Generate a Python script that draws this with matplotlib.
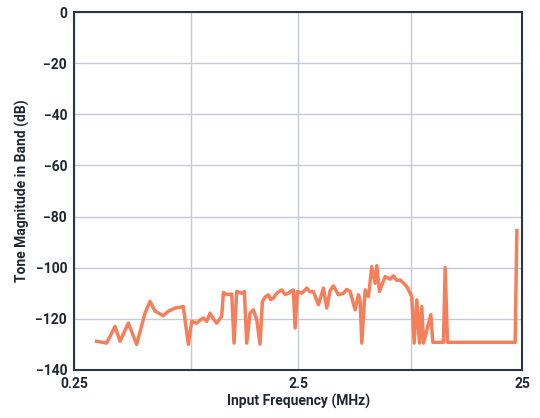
import numpy as np
import matplotlib
matplotlib.use("Agg")
import matplotlib.pyplot as plt

# points: position index (log scale units) and dB
zx = [110,140,165,180,205,230,255,270,285,310,325,345,370,375,385,395,410,420,430,440,450,460,470,485,
      490,500,515,522,530,545,553,560,570,580,590,600,607,615,625,632,640,650,665,675,685,695,700,705,712,
      725,740,750,760,775,790,800,810,820,835,850,860,870,885,895,900,905,915,925,935,945,950,958,
      975,990,1000,1010,1020,1030,1040,1055,1062,1070,1078,1085,1090,1112,1118,1150,1155,1162,1365,1370]
db = [-128.8,-129.5,-123,-128.8,-121.7,-130,-117.8,-113.2,-117,-118.8,-117,-115.8,-115.2,-120.4,-130,-121,
      -121.7,-120.5,-119.7,-121,-117.8,-120,-121.7,-119,
      -109.7,-110.5,-110.3,-129.5,-109.3,-110,-109.3,-129.5,-117.8,-116.5,-120.4,-129.9,-113.2,-111.5,-110.6,
      -112.5,-111.9,-110,-108.7,-110.5,-110,-109,-108.7,-123.6,-109.3,
      -110,-108,-109.5,-109.3,-114.5,-108,-115.8,-109,-107.1,-110.6,-110,-108.5,-109.3,-116.5,-110.6,-113,
      -129.5,-108.7,-111.3,-99.6,-106.1,-99.2,-109.3,
      -103.5,-104.5,-103.2,-105,-104.8,-106,-107.4,-111.3,-129.5,-112.6,-129.5,-115.2,-129.5,-118.4,-129.2,
      -129.2,-100,-129.2,-129.2,-85.5]
freq = [0.25 * 10 ** ((z - 42) / 672) for z in zx]

xticks = [0.25, 2.5, 25]
xtick_labels = ["0.25", "2.5", "25"]
yticks = [0, -20, -40, -60, -80, -100, -120, -140]

plt.rcParams['font.family'] = ['Roboto', 'DejaVu Sans']
fig = plt.figure(figsize=(5.4, 4.18), dpi=100)
ax = fig.add_axes([0.137, 0.115, 0.83, 0.856])
ax.plot(freq, db, color="#F57F5B", lw=2.5)
ax.set_xscale("log")
ax.set_xlim(0.25, 25)
ax.set_ylim(-140, 0)
ax.set_xticks(xticks)
ax.set_xticklabels(xtick_labels)
ax.set_xticks([0.83, 8], minor=True)
ax.xaxis.set_minor_formatter(matplotlib.ticker.NullFormatter())
ax.set_yticks(yticks)
ax.set_yticklabels([f"{v}".replace("-", "\u2212") for v in yticks])
ax.grid(True, which="both", color="#C5CBD6", lw=1)
ax.set_axisbelow(True)
for s in ax.spines.values():
    s.set_color("#2A3645"); s.set_linewidth(1.5)
ax.tick_params(which="both", length=0, labelsize=10, labelcolor="#1E2630", pad=5)
for t in ax.get_xticklabels() + ax.get_yticklabels():
    t.set_fontweight("bold")
ax.set_xlabel("Input Frequency (MHz)", fontsize=10, fontweight="bold", color="#1E2630", labelpad=2)
ax.set_ylabel("Tone Magnitude in Band (dB)", fontsize=10, fontweight="bold", color="#1E2630", labelpad=4)
fig.savefig("out.png", dpi=100)
